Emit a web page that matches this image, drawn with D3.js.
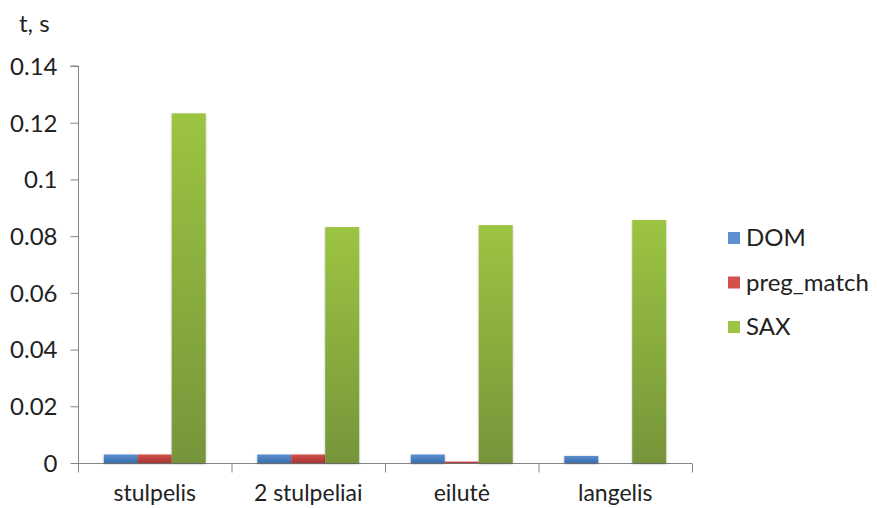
<!DOCTYPE html>
<html><head><meta charset="utf-8">
<script src="https://cdn.jsdelivr.net/npm/d3@7"></script>
<style>body{margin:0;background:#fff}text{font-family:Lato,"Open Sans",sans-serif;fill:#222}</style>
</head><body><svg id="c" width="877" height="508"></svg>
<script>
const categories = ["stulpelis", "2 stulpeliai", "eilutė", "langelis"];
const seriesNames = ["DOM", "preg_match", "SAX"];
const domValues = [0.003, 0.003, 0.003, 0.0025];
const pregValues = [0.003, 0.003, 0.0005, 0];
const saxValues = [0.1233, 0.0832, 0.0839, 0.0857];
const yTicks = [0, 0.02, 0.04, 0.06, 0.08, 0.1, 0.12, 0.14];
const yTickLabels = ["0", "0.02", "0.04", "0.06", "0.08", "0.1", "0.12", "0.14"];
const colors = [["#5b8fd0","#3a6fae"],["#d4504c","#a93533"],["#9dc442","#76953a"]];

const svg = d3.select("#c");
const L = 78, R = 692, T = 66, B = 463;
const x = d3.scaleBand().domain(categories).range([L, R]).paddingInner(0).paddingOuter(0);
const y = d3.scaleLinear().domain([0, 0.14]).range([B, T]);
const inner = d3.scaleBand().domain(seriesNames).range([0, x.bandwidth()]).paddingInner(0).paddingOuter(0.76);

const defs = svg.append("defs");
colors.forEach((c, i) => {
  const g = defs.append("linearGradient").attr("id", "g" + i).attr("x1", 0).attr("x2", 0).attr("y1", 0).attr("y2", 1);
  g.append("stop").attr("offset", "0%").attr("stop-color", c[0]);
  g.append("stop").attr("offset", "100%").attr("stop-color", c[1]);
});
const f = defs.append("filter").attr("id", "sh").attr("x", "-20%").attr("y", "-20%").attr("width", "140%").attr("height", "140%");
f.append("feDropShadow").attr("dx", 0).attr("dy", 1).attr("stdDeviation", 1).attr("flood-color", "#000").attr("flood-opacity", 0.3);

// gridlines
svg.append("g").selectAll("line").data(yTicks.slice(1)).join("line")
  .attr("x1", L).attr("x2", R).attr("y1", d => y(d) + 0.5).attr("y2", d => y(d) + 0.5)
  .attr("stroke", "#858585").attr("stroke-width", 1.2).attr("filter", "url(#sh)");

// y axis
const yAxis = d3.axisLeft(y).tickValues(yTicks).tickFormat((d, i) => yTickLabels[i]).tickSize(8).tickPadding(13);
const ya = svg.append("g").attr("transform", `translate(${L + 0.5},0)`).call(yAxis);
ya.select(".domain").attr("stroke", "#858585").attr("d", `M-8,${T}H0V${B}`);
ya.selectAll(".tick line").attr("stroke", "#858585");
ya.selectAll(".tick text").style("font-size", "24px").attr("fill", "#222").attr("dy", "0.35em");

// x axis
const xa = svg.append("g").attr("transform", `translate(0,${B + 0.5})`);
xa.append("line").attr("x1", L).attr("x2", R).attr("stroke", "#858585").attr("stroke-width", 1.2);
const bounds = categories.map(c => x(c)).concat([R]);
xa.selectAll(".tk").data(bounds).join("line").attr("class", "tk")
  .attr("x1", d => d + 0.5).attr("x2", d => d + 0.5).attr("y1", 0).attr("y2", 9).attr("stroke", "#858585");
xa.selectAll("text").data(categories).join("text")
  .attr("x", d => x(d) + x.bandwidth() / 2).attr("y", 37).attr("text-anchor", "middle")
  .style("font-size", "23px").text(d => d);

// bars
const allSeries = [domValues, pregValues, saxValues];
allSeries.forEach((vals, si) => {
  svg.append("g").selectAll("rect").data(vals).join("rect")
    .attr("x", (d, i) => x(categories[i]) + inner(seriesNames[si]))
    .attr("width", inner.bandwidth())
    .attr("y", d => y(d))
    .attr("height", d => B - y(d))
    .attr("fill", `url(#g${si})`)
    .attr("filter", "url(#sh)");
});

// y title
svg.append("text").attr("x", 19).attr("y", 32).style("font-size", "24px").text("t, s");

// legend
const lg = svg.append("g");
seriesNames.forEach((s, i) => {
  const yy = 238 + i * 44.5;
  lg.append("rect").attr("x", 728).attr("y", yy - 6).attr("width", 12).attr("height", 12).attr("fill", colors[i][0]);
  lg.append("text").attr("x", 746).attr("y", yy).attr("dy", "0.35em").style("font-size", "24px").text(s);
});
</script></body></html>
